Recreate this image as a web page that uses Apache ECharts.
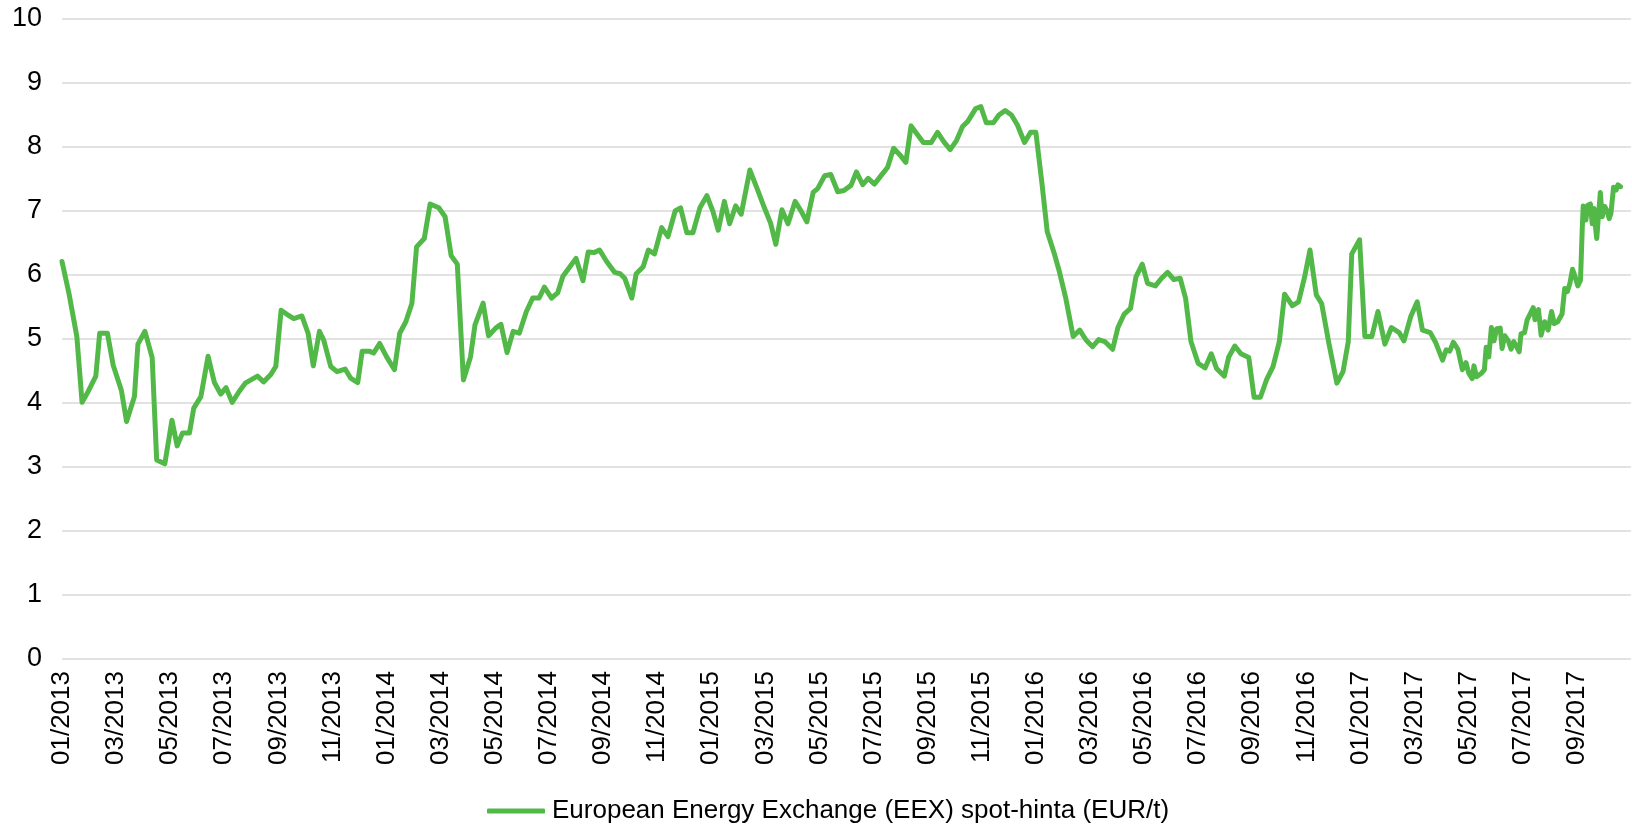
<!DOCTYPE html>
<html>
<head>
<meta charset="utf-8">
<script src="https://cdn.jsdelivr.net/npm/echarts@6/dist/echarts.min.js"></script>
<style>
  html, body { margin: 0; padding: 0; background: #fff; }
  #chart { width: 1632px; height: 829px; }
</style>
</head>
<body>
<div id="chart"></div>
<script>
// EEX spot price, EUR/t
const seriesName = 'European Energy Exchange (EEX) spot-hinta (EUR/t)';

const dates = [
  '2013-01-01','2013-01-09','2013-01-18','2013-01-24','2013-01-31','2013-02-08','2013-02-12','2013-02-20','2013-02-26','2013-03-07',
  '2013-03-13','2013-03-22','2013-03-26','2013-04-03','2013-04-11','2013-04-16','2013-04-25','2013-05-03','2013-05-09','2013-05-15',
  '2013-05-23','2013-05-28','2013-06-05','2013-06-13','2013-06-20','2013-06-27','2013-07-03','2013-07-10','2013-07-18','2013-07-25',
  '2013-08-08','2013-08-15','2013-08-23','2013-08-29','2013-09-04','2013-09-10','2013-09-18','2013-09-27','2013-10-04','2013-10-10',
  '2013-10-17','2013-10-22','2013-10-30','2013-11-06','2013-11-15','2013-11-21','2013-11-29','2013-12-04','2013-12-12','2013-12-17',
  '2013-12-24','2014-01-01','2014-01-10','2014-01-16','2014-01-23','2014-01-30','2014-02-04','2014-02-12','2014-02-18','2014-02-27',
  '2014-03-06','2014-03-13','2014-03-20','2014-03-27','2014-04-04','2014-04-09','2014-04-18','2014-04-24','2014-05-02','2014-05-08',
  '2014-05-15','2014-05-22','2014-05-29','2014-06-06','2014-06-13','2014-06-20','2014-06-26','2014-07-04','2014-07-11','2014-07-17',
  '2014-07-25','2014-08-01','2014-08-09','2014-08-15','2014-08-22','2014-08-28','2014-09-05','2014-09-14','2014-09-20','2014-09-25',
  '2014-10-03','2014-10-08','2014-10-16','2014-10-22','2014-10-29','2014-11-06','2014-11-13','2014-11-21','2014-11-27','2014-12-04',
  '2014-12-11','2014-12-19','2014-12-27','2015-01-03','2015-01-09','2015-01-16','2015-01-22','2015-01-29','2015-02-04','2015-02-13',
  '2015-02-21','2015-02-28','2015-03-07','2015-03-13','2015-03-20','2015-03-27','2015-04-04','2015-04-11','2015-04-17','2015-04-24',
  '2015-04-29','2015-05-07','2015-05-14','2015-05-22','2015-05-29','2015-06-06','2015-06-12','2015-06-19','2015-06-25','2015-07-02',
  '2015-07-10','2015-07-17','2015-07-24','2015-07-31','2015-08-07','2015-08-13','2015-08-20','2015-08-27','2015-09-05','2015-09-12',
  '2015-09-19','2015-09-26','2015-10-03','2015-10-10','2015-10-16','2015-10-25','2015-10-31','2015-11-06','2015-11-14','2015-11-20',
  '2015-11-27','2015-12-04','2015-12-11','2015-12-19','2015-12-26','2016-01-01','2016-01-08','2016-01-14','2016-01-22','2016-01-28',
  '2016-02-04','2016-02-12','2016-02-19','2016-02-26','2016-03-04','2016-03-11','2016-03-18','2016-03-27','2016-04-02','2016-04-09',
  '2016-04-16','2016-04-22','2016-04-29','2016-05-05','2016-05-14','2016-05-21','2016-05-28','2016-06-04','2016-06-11','2016-06-17',
  '2016-06-23','2016-07-01','2016-07-09','2016-07-16','2016-07-22','2016-07-31','2016-08-05','2016-08-12','2016-08-19','2016-08-28',
  '2016-09-03','2016-09-10','2016-09-17','2016-09-24','2016-10-01','2016-10-07','2016-10-16','2016-10-23','2016-10-30','2016-11-05',
  '2016-11-12','2016-11-18','2016-11-26','2016-12-05','2016-12-12','2016-12-18','2016-12-22','2016-12-31','2017-01-06','2017-01-14',
  '2017-01-21','2017-01-29','2017-02-05','2017-02-13','2017-02-18','2017-02-25','2017-03-04','2017-03-10','2017-03-19','2017-03-25',
  '2017-04-02','2017-04-06','2017-04-10','2017-04-14','2017-04-19','2017-04-24','2017-04-28','2017-05-01','2017-05-05','2017-05-07',
  '2017-05-10','2017-05-16','2017-05-19','2017-05-21','2017-05-24','2017-05-27','2017-05-30','2017-06-02','2017-06-06','2017-06-08',
  '2017-06-11','2017-06-15','2017-06-18','2017-06-21','2017-06-24','2017-06-27','2017-06-29','2017-07-03','2017-07-06','2017-07-09',
  '2017-07-13','2017-07-15','2017-07-19','2017-07-22','2017-07-26','2017-07-30','2017-08-03','2017-08-06','2017-08-10','2017-08-15',
  '2017-08-18','2017-08-21','2017-08-24','2017-08-27','2017-08-30','2017-09-02','2017-09-05','2017-09-07','2017-09-08','2017-09-11',
  '2017-09-13','2017-09-16','2017-09-18','2017-09-20','2017-09-22','2017-09-23','2017-09-25','2017-09-27','2017-09-29','2017-10-02',
  '2017-10-05','2017-10-07','2017-10-09','2017-10-11','2017-10-12','2017-10-15','2017-10-17','2017-10-20'
];

const prices = [
  6.21,5.71,5.04,4.01,4.18,4.42,5.09,5.09,4.59,4.20,
  3.71,4.10,4.92,5.12,4.71,3.11,3.05,3.73,3.33,3.53,
  3.53,3.92,4.10,4.73,4.32,4.14,4.24,4.01,4.18,4.31,
  4.42,4.33,4.44,4.57,5.45,5.39,5.32,5.36,5.09,4.58,
  5.12,4.98,4.57,4.49,4.53,4.39,4.32,4.81,4.81,4.78,
  4.93,4.72,4.52,5.09,5.27,5.56,6.44,6.57,7.11,7.05,
  6.91,6.30,6.17,4.36,4.72,5.22,5.56,5.05,5.17,5.23,
  4.79,5.12,5.09,5.43,5.64,5.64,5.81,5.64,5.72,5.98,
  6.13,6.26,5.91,6.36,6.35,6.39,6.21,6.04,6.02,5.95,
  5.64,6.02,6.13,6.39,6.33,6.74,6.60,7.00,7.05,6.66,
  6.66,7.05,7.24,6.99,6.70,7.15,6.80,7.08,6.95,7.64,
  7.33,7.05,6.81,6.48,7.02,6.80,7.15,6.99,6.83,7.29,
  7.35,7.55,7.57,7.30,7.32,7.40,7.61,7.41,7.51,7.42,
  7.56,7.68,7.98,7.88,7.76,8.33,8.20,8.07,8.07,8.23,
  8.08,7.96,8.10,8.32,8.40,8.60,8.63,8.38,8.38,8.50,
  8.57,8.50,8.34,8.07,8.23,8.23,7.43,6.68,6.34,6.05,
  5.64,5.04,5.14,4.98,4.88,4.99,4.96,4.84,5.18,5.39,
  5.48,5.97,6.17,5.87,5.83,5.95,6.04,5.93,5.95,5.64,
  4.96,4.62,4.55,4.77,4.54,4.42,4.72,4.89,4.77,4.71,
  4.09,4.09,4.37,4.57,4.96,5.70,5.52,5.58,5.97,6.39,
  5.69,5.55,4.93,4.31,4.49,4.96,6.33,6.55,5.04,5.04,
  5.43,4.92,5.18,5.10,4.97,5.35,5.58,5.14,5.10,4.95,
  4.67,4.83,4.81,4.95,4.84,4.52,4.63,4.47,4.38,4.58,
  4.41,4.47,4.52,4.87,4.72,5.18,4.97,5.16,5.17,4.85,
  5.05,4.97,4.84,4.96,4.88,4.80,5.08,5.10,5.30,5.38,
  5.49,5.30,5.46,5.06,5.27,5.14,5.43,5.24,5.27,5.39,
  5.79,5.74,5.87,6.09,5.97,5.83,5.92,6.75,7.08,6.86,
  7.09,7.11,6.80,7.04,6.70,6.57,6.94,7.29,6.91,7.07,
  6.99,6.88,6.96,6.94,7.37,7.33,7.41,7.38
];

// Axis labels, one every second month from 01/2013
const monthLabels = [
  '01/2013','03/2013','05/2013','07/2013','09/2013','11/2013',
  '01/2014','03/2014','05/2014','07/2014','09/2014','11/2014',
  '01/2015','03/2015','05/2015','07/2015','09/2015','11/2015',
  '01/2016','03/2016','05/2016','07/2016','09/2016','11/2016',
  '01/2017','03/2017','05/2017','07/2017','09/2017'
];
const yTicks = [0, 1, 2, 3, 4, 5, 6, 7, 8, 9, 10];

// Position of a date in months since the start of 2013
function monthPos(s) {
  const [y, m, d] = s.split('-').map(Number);
  const dim = new Date(y, m, 0).getDate();
  return (y - 2013) * 12 + (m - 1) + (d - 1) / dim;
}

const points = dates.map((d, i) => [monthPos(d), prices[i]]);

const FONT = '"Liberation Sans", Arial, sans-serif';
const GREEN = '#52b948';

const chart = echarts.init(document.getElementById('chart'), null, { renderer: 'canvas' });
chart.setOption({
  backgroundColor: '#ffffff',
  animation: false,
  grid: { left: 62, right: 1, top: 19, bottom: 170, containLabel: false },
  xAxis: {
    type: 'value',
    min: 0,
    max: 58,
    interval: 2,
    axisLine: { show: false },
    axisTick: { show: false },
    splitLine: { show: false },
    axisLabel: {
      rotate: 90,
      margin: 12,
      fontSize: 26,
      fontFamily: FONT,
      color: '#000',
      showMaxLabel: false,
      formatter: v => monthLabels[Math.round(v / 2)] || ''
    }
  },
  yAxis: {
    type: 'value',
    min: yTicks[0],
    max: yTicks[yTicks.length - 1],
    interval: 1,
    axisLine: { show: false },
    axisTick: { show: false },
    splitLine: { show: true, lineStyle: { color: '#d9d9d9', width: 1.5 } },
    axisLabel: { margin: 20, fontSize: 27, fontFamily: FONT, color: '#000' }
  },
  legend: {
    show: true,
    left: 482,
    top: 793,
    icon: 'roundRect',
    itemWidth: 58,
    itemHeight: 5,
    itemGap: 10,
    textStyle: { fontSize: 26, fontFamily: FONT, color: '#000', padding: [0, 0, 0, 2] },
    data: [seriesName]
  },
  series: [{
    name: seriesName,
    type: 'line',
    data: points,
    showSymbol: false,
    symbol: 'none',
    color: GREEN,
    lineStyle: { color: GREEN, width: 5, cap: 'round', join: 'round' }
  }]
});
</script>
</body>
</html>
